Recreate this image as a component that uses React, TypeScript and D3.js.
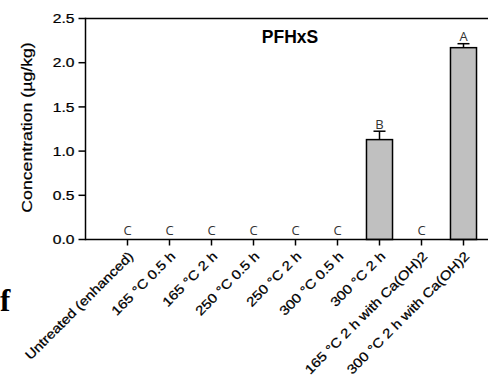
import React from "react";
import * as d3 from "d3";

const categories = [
  "Untreated (enhanced)",
  "165 °C 0.5 h",
  "165 °C 2 h",
  "250 °C 0.5 h",
  "250 °C 2 h",
  "300 °C 0.5 h",
  "300 °C 2 h",
  "165 °C 2 h with Ca(OH)2",
  "300 °C 2 h with Ca(OH)2",
];
const values = [0, 0, 0, 0, 0, 0, 1.13, 0, 2.17];
const errors = [0, 0, 0, 0, 0, 0, 0.095, 0, 0.045];
const letters = ["C", "C", "C", "C", "C", "C", "B", "C", "A"];
const yTicks = [0, 0.5, 1.0, 1.5, 2.0, 2.5];
const title = "PFHxS";
const yLabel = "Concentration (µg/kg)";
const panel = "f";

export default function App() {
  const W = 488, H = 375;
  const left = 85.5, top = 18.5, bottom = 239.5;
  const x = d3.scaleLinear().domain([0, 10]).range([left, 505.5]);
  const y = d3.scaleLinear().domain([0, 2.5]).range([bottom, top]);
  const barW = x(0.62) - x(0);
  const sans = "'Liberation Sans', Arial, sans-serif";
  return (
    <svg width={W} height={H} style={{ position: "absolute", left: 0, top: 0 }} xmlns="http://www.w3.org/2000/svg">
      <rect width={W} height={H} fill="#fff" />
      {/* bars */}
      {values.map((v, i) => {
        const cx = x(i + 1);
        return (
          <g key={i}>
            {v > 0 && (
              <rect x={cx - barW / 2} y={y(v)} width={barW} height={y(0) - y(v)} fill="#c0c0c0" stroke="#000" strokeWidth={1.5} />
            )}
            {errors[i] > 0 && (
              <g stroke="#000" strokeWidth={1.5}>
                <line x1={cx} x2={cx} y1={y(v)} y2={y(v + errors[i])} />
                <line x1={cx - 6} x2={cx + 6} y1={y(v + errors[i])} y2={y(v + errors[i])} />
              </g>
            )}
            <text x={cx} y={y(v + errors[i]) - (v > 0 ? 2.5 : 4.5)} textAnchor="middle" fontFamily="'Open Sans', sans-serif" fontSize={13} fill="#333">
              {letters[i]}
            </text>
          </g>
        );
      })}
      {/* frame */}
      <line x1={left} x2={W} y1={top} y2={top} stroke="#000" strokeWidth={1.5} />
      <line x1={left} x2={left} y1={top - 0.75} y2={bottom + 0.75} stroke="#000" strokeWidth={1.5} />
      <line x1={left} x2={W} y1={bottom} y2={bottom} stroke="#000" strokeWidth={1.5} />
      {/* y ticks */}
      {yTicks.map((t) => (
        <g key={t}>
          <line x1={left - 7} x2={left} y1={y(t)} y2={y(t)} stroke="#000" strokeWidth={1.5} />
          <text transform={`translate(${left - 11},${y(t) + 4.6}) scale(1.2,1)`} textAnchor="end" fontFamily={sans} fontSize={13} fill="#000" stroke="#000" strokeWidth={0.25}>
            {t.toFixed(1)}
          </text>
        </g>
      ))}
      {/* x ticks & labels */}
      {categories.map((c, i) => (
        <g key={c}>
          <line x1={x(i + 1)} x2={x(i + 1)} y1={bottom} y2={bottom + 6} stroke="#000" strokeWidth={1.5} />
          <text transform={`translate(${x(i + 1) + 6.6},${257}) rotate(-45) scale(1.16,1)`} textAnchor="end" fontFamily={sans} fontSize={13} fill="#000" stroke="#000" strokeWidth={0.25}>
            {c}
          </text>
        </g>
      ))}
      {/* y label */}
      <text transform={`translate(31.5,127.5) rotate(-90) scale(1.18,1)`} textAnchor="middle" fontFamily={sans} fontSize={15} fill="#000" stroke="#000" strokeWidth={0.2}>
        {yLabel}
      </text>
      {/* title */}
      <text x={290} y={43.3} textAnchor="middle" fontFamily={sans} fontWeight="bold" fontSize={17.5} fill="#000">
        {title}
      </text>
      {/* panel letter */}
      <text x={0} y={311} fontFamily="'Liberation Serif', 'Times New Roman', serif" fontWeight="bold" fontSize={31} fill="#000">
        {panel}
      </text>
    </svg>
  );
}
